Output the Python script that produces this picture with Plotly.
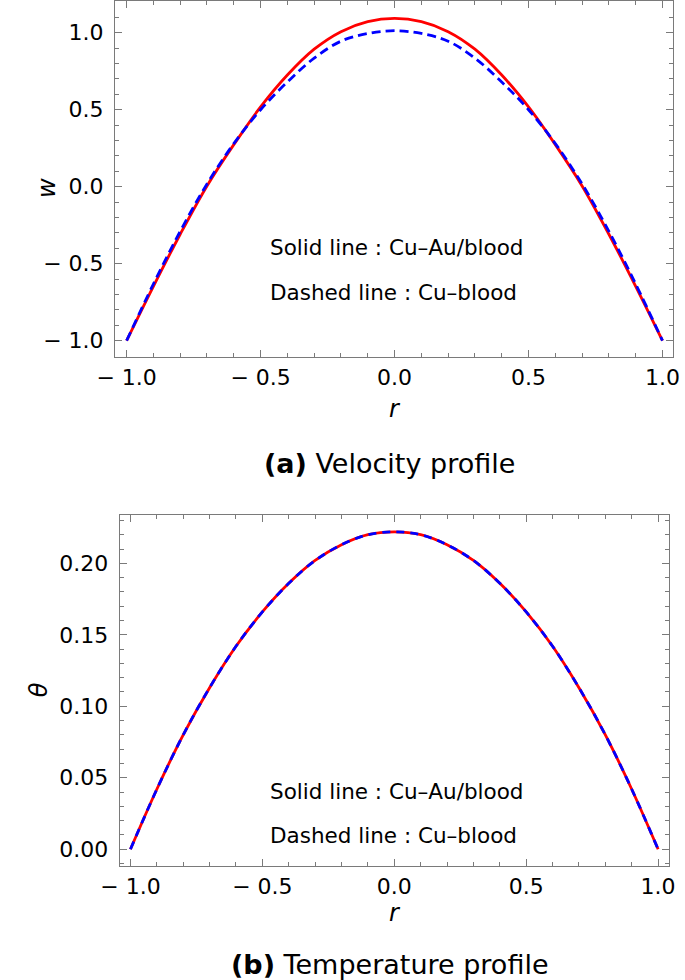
import plotly.graph_objects as go

# ---- data ----
r_vals = [-1.0, -0.9, -0.8, -0.7, -0.6, -0.5, -0.4, -0.3, -0.2, -0.1, 0.0,
          0.1, 0.2, 0.3, 0.4, 0.5, 0.6, 0.7, 0.8, 0.9, 1.0]
w_cuau = [-1.0, -0.647, -0.309, 0.005, 0.273, 0.518, 0.725, 0.893, 1.007, 1.072, 1.093,
          1.072, 1.007, 0.893, 0.725, 0.518, 0.273, 0.005, -0.309, -0.647, -1.0]
w_cu = [-1.0, -0.632, -0.29, 0.018, 0.28, 0.50, 0.68, 0.835, 0.945, 0.995, 1.013,
        0.995, 0.945, 0.835, 0.68, 0.50, 0.28, 0.018, -0.29, -0.632, -1.0]
theta_cuau = [0.0, 0.042, 0.080, 0.113, 0.142, 0.166, 0.186, 0.202, 0.213, 0.220, 0.222,
              0.220, 0.213, 0.202, 0.186, 0.166, 0.142, 0.113, 0.080, 0.042, 0.0]
theta_cu = [0.0, 0.042, 0.080, 0.113, 0.142, 0.166, 0.186, 0.202, 0.213, 0.220, 0.222,
            0.220, 0.213, 0.202, 0.186, 0.166, 0.142, 0.113, 0.080, 0.042, 0.0]

x_tickvals = [-1.0, -0.5, 0.0, 0.5, 1.0]
x_ticktext = ["\u2212 1.0", "\u2212 0.5", "0.0", "0.5", "1.0"]
w_tickvals = [-1.0, -0.5, 0.0, 0.5, 1.0]
w_ticktext = ["\u2212 1.0", "\u2212 0.5", "0.0", "0.5", "1.0"]
t_tickvals = [0.0, 0.05, 0.10, 0.15, 0.20]
t_ticktext = ["0.00", "0.05", "0.10", "0.15", "0.20"]

W, H = 685, 980
FONT = "DejaVu Sans"
RED = "#ff0000"
BLUE = "#0000ff"
FRAME = "#7a7a7a"

fig = go.Figure()
fig.add_trace(go.Scatter(x=r_vals, y=w_cuau, mode="lines", line=dict(color=RED, width=2.8, shape="spline"),
                         xaxis="x", yaxis="y", showlegend=False))
fig.add_trace(go.Scatter(x=r_vals, y=w_cu, mode="lines", line=dict(color=BLUE, width=2.8, dash="9px,5px", shape="spline"),
                         xaxis="x", yaxis="y", showlegend=False))
fig.add_trace(go.Scatter(x=r_vals, y=theta_cuau, mode="lines", line=dict(color=RED, width=2.8, shape="spline"),
                         xaxis="x2", yaxis="y2", showlegend=False))
fig.add_trace(go.Scatter(x=r_vals, y=theta_cu, mode="lines", line=dict(color=BLUE, width=2.8, dash="8px,6px", shape="spline"),
                         xaxis="x2", yaxis="y2", showlegend=False))


def ax(domain, rng, tickvals, ticktext, minor_dtick, anchor, standoff):
    return dict(domain=domain, range=rng, anchor=anchor,
                tickmode="array", tickvals=tickvals, ticktext=ticktext,
                showline=True, linecolor=FRAME, linewidth=1.3, mirror="allticks",
                ticks="inside", ticklen=7, tickwidth=1, tickcolor=FRAME,
                minor=dict(ticks="inside", ticklen=4, tickwidth=1, tickcolor=FRAME,
                           tickmode="linear", tick0=0, dtick=minor_dtick),
                showgrid=False, zeroline=False, ticklabelstandoff=standoff,
                tickfont=dict(family=FONT, size=22, color="black"))


def px_x(p):
    return p / W


def px_y(p):
    return 1 - p / H


fig.update_layout(
    width=W, height=H,
    margin=dict(l=0, r=0, t=0, b=0),
    paper_bgcolor="white", plot_bgcolor="white",
    xaxis=ax([px_x(99), px_x(680)], [-1.043, 1.04], x_tickvals, x_ticktext, 0.1, "y", 0),
    yaxis=ax([px_y(357), px_y(1)], [-1.106, 1.206], w_tickvals, w_ticktext, 0.1, "x", 6),
    xaxis2=ax([px_x(104), px_x(675.7)], [-1.04, 1.0415], x_tickvals, x_ticktext, 0.1, "y2", 0),
    yaxis2=ax([px_y(866), px_y(514.7)], [-0.0117, 0.234], t_tickvals, t_ticktext, 0.01, "x2", 6),
)

annots = [
    dict(text="Solid line : Cu\u2013Au/blood", x=px_x(258), y=px_y(248), xanchor="left", size=21.5),
    dict(text="Dashed line : Cu\u2013blood", x=px_x(258), y=px_y(293), xanchor="left", size=21.5),
    dict(text="Solid line : Cu\u2013Au/blood", x=px_x(258), y=px_y(791), xanchor="left", size=21.5),
    dict(text="Dashed line : Cu\u2013blood", x=px_x(258), y=px_y(835), xanchor="left", size=21.5),
    dict(text="<i>r</i>", x=px_x(390), y=px_y(409), xanchor="center", size=24),
    dict(text="<i>r</i>", x=px_x(390), y=px_y(913), xanchor="center", size=24),
    dict(text="<b>(a)</b> Velocity profile", x=px_x(385), y=px_y(463), xanchor="center", size=27),
    dict(text="<b>(b)</b> Temperature profile", x=px_x(385), y=px_y(964), xanchor="center", size=27),
]
for a in annots:
    fig.add_annotation(text=a["text"], x=a["x"], y=a["y"], xref="paper", yref="paper",
                       xanchor=a["xanchor"], yanchor="middle", showarrow=False,
                       font=dict(family=FONT, size=a["size"], color="black"))

fig.add_annotation(text="<i>w</i>", x=px_x(28), y=px_y(188), xref="paper", yref="paper",
                   xanchor="center", yanchor="middle", showarrow=False, textangle=-90,
                   font=dict(family=FONT, size=24, color="black"))
fig.add_annotation(text="<i>\u03b8</i>", x=px_x(20), y=px_y(690), xref="paper", yref="paper",
                   xanchor="center", yanchor="middle", showarrow=False, textangle=-90,
                   font=dict(family=FONT, size=24, color="black"))

fig.write_html("out.html",
               config={"displayModeBar": False},
               post_script="document.body.style.margin='0';document.body.style.overflow='hidden';")
